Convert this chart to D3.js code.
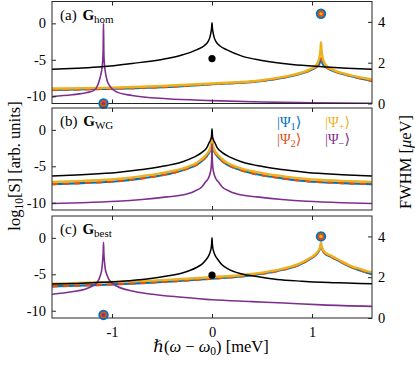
<!DOCTYPE html>
<html>
<head>
<meta charset="utf-8">
<script src="https://cdn.jsdelivr.net/npm/d3@7"></script>
<style>
  body { margin: 0; background: #fff; }
  svg text { font-family: "Liberation Serif", "DejaVu Serif", serif; fill: #000; }
</style>
</head>
<body>
<script>
// ---- data: [hbar(w - w0) meV, log10 S] ----
const xTicks = [-1, 0, 1]
const yTicks = [-10, -5, 0]
const fwhmTicks = [0, 2, 4]

// (a) G_hom
const homBlack = [[-1.6,-6.3],[-1.35,-6.15],[-1.1,-5.95],[-0.8,-5.5],[-0.5,-4.95],[-0.3,-4.35],[-0.15,-3.6],[-0.08,-3.1],[-0.04,-2.5],[-0.02,-1.85],[-0.01,-1.2],[-0.004,-0.6],[0,0.1],[0.004,-0.6],[0.01,-1.2],[0.02,-1.85],[0.04,-2.5],[0.08,-3.1],[0.15,-3.65],[0.3,-4.5],[0.5,-5.1],[0.8,-5.65],[1.1,-5.95],[1.35,-6.15],[1.6,-6.3]]
const homPlus = [[-1.6,-8.95],[-1.1,-8.85],[-0.5,-8.6],[0,-8.25],[0.5,-7.8],[0.8,-7.1],[0.91,-6.7],[0.99,-6.25],[1.03,-5.9],[1.06,-5.3],[1.075,-4.6],[1.085,-3.6],[1.09,-2.6],[1.095,-3.6],[1.105,-4.6],[1.12,-5.3],[1.15,-5.9],[1.19,-6.25],[1.27,-6.7],[1.38,-7.1],[1.6,-7.7]]
const homPsi = [[-1.6,-9.15],[-1.1,-9.0],[-0.5,-8.75],[0,-8.35],[0.5,-7.9],[0.8,-7.2],[0.91,-6.8],[0.99,-6.4],[1.03,-6.1],[1.06,-5.8],[1.075,-5.5],[1.085,-5.0],[1.09,-4.8],[1.095,-5.0],[1.105,-5.5],[1.12,-5.8],[1.15,-6.1],[1.19,-6.4],[1.27,-6.8],[1.38,-7.2],[1.6,-7.9]]
const homMinus = [[-1.6,-10.05],[-1.4,-9.8],[-1.25,-9.5],[-1.18,-9.2],[-1.14,-8.4],[-1.12,-7.5],[-1.105,-6.6],[-1.095,-5.5],[-1.089,-4.0],[-1.085,0.0],[-1.081,-4.2],[-1.075,-5.7],[-1.065,-6.8],[-1.05,-7.8],[-1.02,-8.65],[-0.95,-9.44],[-0.8,-9.9],[-0.45,-10.35],[0,-10.6],[0.5,-10.8],[1.0,-10.9],[1.6,-10.97]]
const homDot = [0, 2.2]
const homMarks = [[1.09, 4.4, 'plus'], [-1.085, 0.0, 'minus']]

// (b) G_WG
const wgBlack = [[-1.6,-6.35],[-1.3,-6.15],[-0.95,-5.85],[-0.7,-5.45],[-0.45,-4.9],[-0.3,-4.4],[-0.18,-3.75],[-0.1,-3.1],[-0.05,-2.4],[-0.03,-1.8],[-0.015,-1.4],[-0.005,-0.9],[0,0.15],[0.005,-0.9],[0.015,-1.4],[0.03,-1.8],[0.05,-2.4],[0.1,-3.1],[0.18,-3.75],[0.3,-4.4],[0.45,-4.9],[0.7,-5.45],[0.95,-5.85],[1.3,-6.15],[1.6,-6.35]]
const wgPlus = [[-1.6,-7.15],[-1.3,-7.0],[-0.95,-6.75],[-0.7,-6.35],[-0.45,-5.8],[-0.25,-5.1],[-0.15,-4.5],[-0.1,-4.0],[-0.05,-3.3],[-0.03,-2.9],[-0.015,-2.4],[-0.005,-1.7],[0,-1.0],[0.005,-1.7],[0.015,-2.4],[0.03,-2.9],[0.05,-3.3],[0.1,-4.0],[0.15,-4.5],[0.25,-5.1],[0.45,-5.8],[0.7,-6.35],[0.95,-6.75],[1.3,-7.0],[1.6,-7.15]]
const wgPsi = [[-1.6,-7.45],[-1.3,-7.3],[-0.95,-7.05],[-0.7,-6.65],[-0.45,-6.1],[-0.25,-5.35],[-0.15,-4.75],[-0.1,-4.25],[-0.05,-3.55],[-0.03,-3.15],[-0.015,-2.65],[-0.005,-2.0],[0,-1.5],[0.005,-2.0],[0.015,-2.65],[0.03,-3.15],[0.05,-3.55],[0.1,-4.25],[0.15,-4.75],[0.25,-5.35],[0.45,-6.1],[0.7,-6.65],[0.95,-7.05],[1.3,-7.3],[1.6,-7.45]]
const wgMinus = [[-1.6,-10.1],[-1.3,-10.0],[-0.95,-9.8],[-0.7,-9.55],[-0.45,-9.2],[-0.3,-8.95],[-0.18,-8.45],[-0.1,-7.8],[-0.067,-7.2],[-0.035,-6.6],[-0.017,-5.85],[-0.008,-5.1],[-0.003,-4.0],[0,-1.9],[0.003,-4.0],[0.008,-5.1],[0.017,-5.85],[0.035,-6.6],[0.067,-7.2],[0.1,-7.8],[0.18,-8.45],[0.3,-8.95],[0.45,-9.2],[0.7,-9.55],[0.95,-9.8],[1.3,-10.0],[1.6,-10.1]]

// (c) G_best
const bestBlack = [[-1.6,-6.35],[-1.35,-6.25],[-1.1,-6.1],[-0.9,-5.95],[-0.65,-5.65],[-0.45,-5.25],[-0.28,-4.75],[-0.16,-4.1],[-0.1,-3.6],[-0.06,-3.0],[-0.035,-2.5],[-0.02,-2.0],[-0.01,-1.5],[-0.004,-0.9],[0,0.0],[0.004,-0.9],[0.01,-1.5],[0.02,-2.0],[0.035,-2.5],[0.06,-3.0],[0.1,-3.7],[0.16,-4.25],[0.28,-4.9],[0.45,-5.3],[0.65,-5.7],[0.9,-5.95],[1.1,-6.1],[1.35,-6.2],[1.6,-6.3]]
const bestPlus = [[-1.6,-6.3],[-1.1,-6.1],[-0.5,-5.8],[0,-5.4],[0.38,-5.0],[0.72,-4.2],[0.88,-3.5],[0.95,-3.0],[1.01,-2.5],[1.05,-2.0],[1.075,-1.5],[1.085,-1.0],[1.09,-0.6],[1.095,-1.0],[1.105,-1.5],[1.13,-2.0],[1.2,-2.5],[1.28,-3.1],[1.38,-3.8],[1.5,-4.35],[1.6,-4.75]]
const bestPsi = [[-1.6,-6.65],[-1.1,-6.45],[-0.5,-6.05],[0,-5.6],[0.38,-5.15],[0.72,-4.35],[0.88,-3.65],[0.95,-3.15],[1.01,-2.65],[1.05,-2.15],[1.075,-1.65],[1.085,-1.2],[1.09,-0.9],[1.095,-1.2],[1.105,-1.65],[1.13,-2.15],[1.2,-2.65],[1.28,-3.25],[1.38,-3.95],[1.5,-4.55],[1.6,-5.0]]
const bestMinus = [[-1.6,-7.75],[-1.4,-7.4],[-1.28,-7.1],[-1.2,-6.65],[-1.15,-6.15],[-1.12,-5.3],[-1.1,-4.1],[-1.093,-3.0],[-1.088,-2.0],[-1.085,-0.6],[-1.081,-2.2],[-1.075,-3.3],[-1.067,-4.3],[-1.05,-5.1],[-1.033,-5.65],[-1.0,-6.2],[-0.95,-6.65],[-0.8,-7.3],[-0.62,-7.7],[-0.3,-8.15],[0,-8.5],[0.4,-8.75],[0.72,-8.95],[1.1,-9.2],[1.6,-9.4]]
const bestDot = [0, 2.1]
const bestMarks = [[1.09, 4.0, 'plus'], [-1.085, 0.15, 'minus']]

const colors = { psi1: '#0072BD', psi2: '#D95319', plus: '#EDB120', minus: '#7E2F8E', black: '#000' }

const panels = [
  { tag: '(a)', sub: 'hom', top: 1.5, black: homBlack, plus: homPlus, psi: homPsi, minus: homMinus, dot: homDot, marks: homMarks, right: true },
  { tag: '(b)', sub: 'WG', top: 108, black: wgBlack, plus: wgPlus, psi: wgPsi, minus: wgMinus, dot: null, marks: [], right: false },
  { tag: '(c)', sub: 'best', top: 216, black: bestBlack, plus: bestPlus, psi: bestPsi, minus: bestMinus, dot: bestDot, marks: bestMarks, right: true }
]

const W = 415, H = 366
const left = 52, right = 372, ph = 102

const svg = d3.select('body').append('svg')
    .attr('width', W)
    .attr('height', H)

const x = d3.scaleLinear().domain([-1.6, 1.6]).range([left, right])
const y = d3.scaleLinear().domain([-11, 3]).range([ph, 0])
const yR = d3.scaleLinear().domain([0, 5]).range([ph, 0])

const line = d3.line()
    .x(d => x(d[0]))
    .y(d => y(d[1]))
    .curve(d3.curveMonotoneX)

panels.forEach((p, i) => {
  const g = svg.append('g').attr('transform', `translate(0,${p.top})`)

  g.append('clipPath').attr('id', 'clip' + i)
    .append('rect').attr('x', left).attr('y', 0).attr('width', right - left).attr('height', ph)

  const curves = g.append('g').attr('clip-path', `url(#clip${i})`)
  curves.append('path').attr('d', line(p.psi))
    .attr('fill', 'none').attr('stroke', colors.psi1).attr('stroke-width', 2.2)
  curves.append('path').attr('d', line(p.psi))
    .attr('fill', 'none').attr('stroke', colors.psi2).attr('stroke-width', 2.2)
    .attr('stroke-dasharray', '6,5')
  curves.append('path').attr('d', line(p.plus))
    .attr('fill', 'none').attr('stroke', colors.plus).attr('stroke-width', 2.4)
  curves.append('path').attr('d', line(p.minus))
    .attr('fill', 'none').attr('stroke', colors.minus).attr('stroke-width', 1.6)
  curves.append('path').attr('d', line(p.black))
    .attr('fill', 'none').attr('stroke', colors.black).attr('stroke-width', 1.5)

  // axes (inward ticks, box)
  const ax = (axis, tx, ty, labels) => {
    const a = g.append('g').attr('transform', `translate(${tx},${ty})`).call(axis)
    a.select('.domain').remove()
    a.selectAll('line').attr('stroke', '#262626')
    a.selectAll('text').attr('font-size', 14.5).attr('fill', '#000')
    if (!labels) a.selectAll('text').remove()
    return a
  }
  ax(d3.axisBottom(x).tickValues(xTicks).tickSize(-4).tickPadding(9).tickFormat(d => String(d)), 0, ph, i === 2)
  ax(d3.axisTop(x).tickValues(xTicks).tickSize(-4), 0, 0, false)
  ax(d3.axisLeft(y).tickValues(yTicks).tickSize(-4).tickPadding(6).tickFormat(d => String(d)), left, 0, true)
  if (p.right) {
    ax(d3.axisRight(yR).tickValues(fwhmTicks).tickSize(-4).tickPadding(6).tickFormat(d => String(d)), right, 0, true)
  }

  g.append('rect')
    .attr('x', left).attr('y', 0).attr('width', right - left).attr('height', ph)
    .attr('fill', 'none').attr('stroke', '#262626').attr('stroke-width', 1)

  // FWHM markers
  if (p.dot) {
    g.append('circle').attr('cx', x(p.dot[0])).attr('cy', yR(p.dot[1])).attr('r', 3.6).attr('fill', '#000')
  }
  p.marks.forEach(m => {
    const cx = x(m[0]), cy = yR(m[1])
    g.append('circle').attr('cx', cx).attr('cy', cy).attr('r', 5.2).attr('fill', colors.psi1)
    g.append('circle').attr('cx', cx).attr('cy', cy).attr('r', 3.4).attr('fill', colors.psi2)
    g.append('circle').attr('cx', cx).attr('cy', cy).attr('r', 1.6).attr('fill', colors[m[2]])
  })

  // panel label
  const t = g.append('text').attr('x', 60).attr('y', 18).attr('font-size', 15)
  t.append('tspan').text(p.tag + ' ')
  t.append('tspan').attr('font-weight', 'bold').attr('dx', 2).text('G')
  t.append('tspan').attr('font-size', 11).attr('dy', 3).text(p.sub)
})

// legend in panel (b)
const legend = [
  { key: 'psi1', sub: '1', col: 0, row: 0 },
  { key: 'plus', sub: '+', col: 1, row: 0 },
  { key: 'psi2', sub: '2', col: 0, row: 1 },
  { key: 'minus', sub: '\u2212', col: 1, row: 1 }
]
legend.forEach(l => {
  const t = svg.append('text')
      .attr('x', 277 + l.col * 48)
      .attr('y', 127 + l.row * 17)
      .attr('font-size', 14.5)
      .style('fill', colors[l.key])
  t.append('tspan').text('|\u03A8')
  t.append('tspan').attr('font-size', 10.5).attr('dy', 2.5).text(l.sub)
  t.append('tspan').attr('dy', -2.5).text('\u27E9')
})

// axis titles
const xl = svg.append('text').attr('x', 211).attr('y', 352).attr('text-anchor', 'middle').attr('font-size', 16.5)
xl.append('tspan').attr('font-style', 'italic').text('\u210F')
xl.append('tspan').text('(')
xl.append('tspan').attr('font-style', 'italic').text('\u03C9')
xl.append('tspan').text(' \u2212 ')
xl.append('tspan').attr('font-style', 'italic').text('\u03C9')
xl.append('tspan').attr('font-size', 11.5).attr('dy', 3).text('0')
xl.append('tspan').attr('dy', -3).text(')  [meV]')

const yl = svg.append('text').attr('transform', 'translate(20,166) rotate(-90)')
    .attr('text-anchor', 'middle').attr('font-size', 16.5)
yl.append('tspan').text('log')
yl.append('tspan').attr('font-size', 11.5).attr('dy', 3).text('10')
yl.append('tspan').attr('dy', -3).text('[S] [arb. units]')

const yr = svg.append('text').attr('transform', 'translate(411,162) rotate(-90)')
    .attr('text-anchor', 'middle').attr('font-size', 16.5)
yr.append('tspan').text('FWHM [')
yr.append('tspan').attr('font-style', 'italic').text('\u03BC')
yr.append('tspan').text('eV]')
</script>
</body>
</html>
